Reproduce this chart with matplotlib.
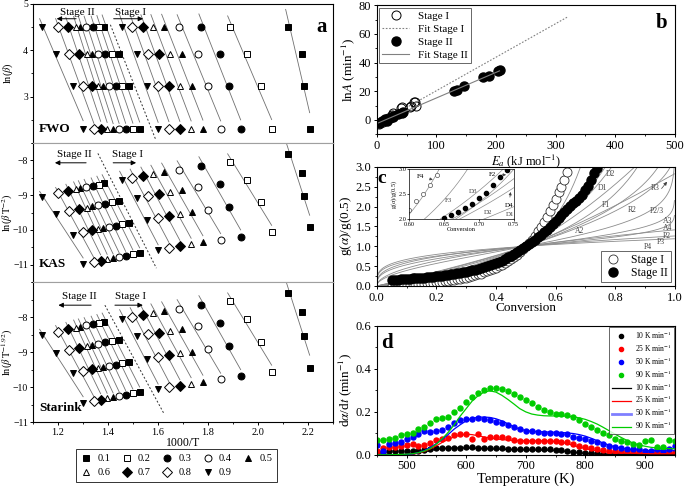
import numpy as np
import matplotlib.pyplot as plt
from matplotlib.lines import Line2D
from matplotlib.ticker import MultipleLocator

plt.rcParams['font.family'] = ['Liberation Serif', 'DejaVu Serif']
plt.rcParams['mathtext.fontset'] = 'stix'
plt.rcParams['axes.linewidth'] = 0.8
plt.rcParams['xtick.direction'] = 'out'
plt.rcParams['ytick.direction'] = 'out'

# ---------- (a) isoconversional plots ----------
conversions = ['0.1', '0.2', '0.3', '0.4', '0.5', '0.6', '0.7', '0.8', '0.9']
conv_markers = ['s', 's', 'o', 'o', '^', '^', 'D', 'D', 'v']
conv_filled = [True, False, True, False, True, False, True, False, True]
heating_rates = [90, 50, 25, 10]  # K/min, one row of points each

# 1000/T; rows = heating rates, columns = conversions 0.1..0.9
stage1_invT = [
    [2.119, 1.887, 1.772, 1.685, 1.623, 1.580, 1.540, 1.497, 1.455],
    [2.175, 1.957, 1.849, 1.761, 1.696, 1.648, 1.604, 1.560, 1.517],
    [2.184, 2.013, 1.884, 1.801, 1.735, 1.688, 1.644, 1.600, 1.555],
    [2.207, 2.055, 1.931, 1.851, 1.780, 1.733, 1.688, 1.644, 1.601],
]
stage2_invT = [
    [1.385, 1.364, 1.341, 1.313, 1.290, 1.271, 1.240, 1.199, 1.135],
    [1.444, 1.417, 1.388, 1.361, 1.337, 1.315, 1.284, 1.245, 1.191],
    [1.484, 1.457, 1.431, 1.404, 1.380, 1.361, 1.337, 1.301, 1.260],
    [1.527, 1.500, 1.471, 1.445, 1.421, 1.397, 1.371, 1.344, 1.301],
]
methods = ['FWO', 'KAS', 'Starink']
method_T_exponent = [0.0, 2.0, 1.92]
method_ylabels = [r'ln($\beta$)', r'ln($\beta\,\mathrm{T}^{-2}$)', r'ln($\beta\,\mathrm{T}^{-1.92}$)']
method_ylims = [(2, 5), (-11.5, -7.5), (-11, -7)]
method_yticks = [[3, 4, 5], [-11, -10, -9, -8], [-11, -10, -9, -8]]

# ---------- (b) compensation effect ----------
b_stage1_E = [3, 6, 10, 15, 19, 25, 28, 40, 43, 55, 58, 62, 64, 66]
b_stage1_lnA = [-3, -2, -1.5, 0, 1, 3.5, 4.5, 8, 9, 9, 9.5, 12.5, 12.8, 9.5]
b_stage2_E = [3, 8, 14, 17, 22, 27, 28, 36, 42, 44, 130, 135, 147, 178, 188, 203, 206]
b_stage2_lnA = [-2.3, -0.5, 0.7, -0.9, 1.4, 3.0, 1.9, 4.2, 4.7, 5.3, 20.5, 21, 23.5, 29.8, 30.5, 34, 34.5]

# ---------- (c) master plots ----------
c_alpha1 = [0.05, 0.06, 0.07, 0.08, 0.09, 0.10, 0.11, 0.12, 0.13, 0.14, 0.15, 0.16, 0.17, 0.18, 0.19,
            0.20, 0.21, 0.22, 0.23, 0.24, 0.25, 0.26, 0.27, 0.28, 0.29, 0.30, 0.31, 0.32, 0.33, 0.34,
            0.35, 0.36, 0.37, 0.38, 0.39, 0.40, 0.41, 0.42, 0.43, 0.44, 0.45, 0.46, 0.47, 0.48, 0.49,
            0.50, 0.51, 0.52, 0.53, 0.54, 0.55, 0.56, 0.57, 0.58, 0.59, 0.60, 0.61, 0.62, 0.63, 0.64]
c_g1 = [0.01, 0.01, 0.02, 0.02, 0.02, 0.03, 0.03, 0.04, 0.04, 0.05, 0.05, 0.06, 0.07, 0.07, 0.08,
        0.09, 0.10, 0.11, 0.12, 0.13, 0.14, 0.15, 0.17, 0.18, 0.20, 0.21, 0.23, 0.25, 0.27, 0.29,
        0.31, 0.34, 0.37, 0.40, 0.43, 0.46, 0.50, 0.54, 0.58, 0.63, 0.68, 0.73, 0.79, 0.85, 0.92,
        1.00, 1.08, 1.17, 1.27, 1.38, 1.49, 1.61, 1.74, 1.88, 2.03, 2.19, 2.36, 2.50, 2.68, 2.88]
c_alpha2 = [0.05, 0.06, 0.07, 0.08, 0.09, 0.10, 0.11, 0.12, 0.13, 0.14, 0.15, 0.16, 0.17, 0.18, 0.19,
            0.20, 0.21, 0.22, 0.23, 0.24, 0.25, 0.26, 0.27, 0.28, 0.29, 0.30, 0.31, 0.32, 0.33, 0.34,
            0.35, 0.36, 0.37, 0.38, 0.39, 0.40, 0.41, 0.42, 0.43, 0.44, 0.45, 0.46, 0.47, 0.48, 0.49,
            0.50, 0.51, 0.52, 0.53, 0.54, 0.55, 0.56, 0.57, 0.58, 0.59, 0.60, 0.61, 0.62, 0.63, 0.64,
            0.65, 0.66, 0.67, 0.68, 0.69, 0.70, 0.71, 0.72, 0.73, 0.74]
c_g2 = [0.15, 0.16, 0.16, 0.17, 0.17, 0.18, 0.18, 0.19, 0.19, 0.20, 0.20, 0.21, 0.22, 0.23, 0.23,
        0.24, 0.25, 0.26, 0.27, 0.28, 0.29, 0.30, 0.32, 0.33, 0.34, 0.36, 0.38, 0.39, 0.41, 0.43,
        0.45, 0.47, 0.50, 0.52, 0.55, 0.58, 0.61, 0.64, 0.68, 0.72, 0.76, 0.80, 0.85, 0.90, 0.95,
        1.00, 1.05, 1.11, 1.17, 1.23, 1.29, 1.35, 1.42, 1.49, 1.56, 1.63, 1.70, 1.78, 1.86, 1.94,
        2.02, 2.08, 2.14, 2.22, 2.30, 2.42, 2.52, 2.68, 2.84, 2.98]

# theoretical kinetic models g(alpha), drawn normalised by g(0.5)
models = {
    'A2': lambda a: (-np.log(1 - a)) ** (1 / 2),
    'A3': lambda a: (-np.log(1 - a)) ** (1 / 3),
    'A4': lambda a: (-np.log(1 - a)) ** (1 / 4),
    'P2': lambda a: a ** (1 / 2),
    'P3': lambda a: a ** (1 / 3),
    'P4': lambda a: a ** (1 / 4),
    'P2/3': lambda a: a ** (3 / 2),
    'R2': lambda a: 1 - (1 - a) ** (1 / 2),
    'R3': lambda a: 1 - (1 - a) ** (1 / 3),
    'D1': lambda a: a ** 2,
    'D2': lambda a: (1 - a) * np.log(1 - a) + a,
    'D3': lambda a: (1 - (1 - a) ** (1 / 3)) ** 2,
    'D4': lambda a: 1 - 2 * a / 3 - (1 - a) ** (2 / 3),
    'F1': lambda a: -np.log(1 - a),
    'F2': lambda a: 1 / (1 - a) - 1,
    'F3': lambda a: ((1 - a) ** -2 - 1) / 2,
    'F4': lambda a: ((1 - a) ** -3 - 1) / 3,
}
c_labels = {'D2': (0.785, 2.83), 'D1': (0.758, 2.46), 'F1': (0.77, 2.04), 'R2': (0.858, 1.92),
            'R3': (0.936, 2.46), 'P2/3': (0.94, 1.88), 'A2': (0.68, 1.38), 'A3': (0.975, 1.64),
            'A4': (0.975, 1.45), 'P2': (0.975, 1.27), 'P3': (0.955, 1.10), 'P4': (0.91, 0.98)}
inset_labels = {'F3': (0.657, 2.38), 'D3': (0.692, 2.55), 'D2': (0.713, 2.13), 'D1': (0.745, 2.09)}

# ---------- (d) reaction rate ----------
d_temp = [450, 460, 470, 480, 490, 500, 510, 520, 530, 540, 550, 560, 570, 580, 590, 600, 610, 620,
          630, 640, 650, 660, 670, 680, 690, 700, 710, 720, 730, 740, 750, 760, 770, 780, 790, 800,
          810, 820, 830, 840, 850, 860, 870, 880, 890, 900, 910, 920, 930, 940, 950]
d_rates = ['10 K min$^{-1}$', '25 K min$^{-1}$', '50 K min$^{-1}$', '90 K min$^{-1}$']
d_colors = ['#000000', '#ff0000', '#0000ff', '#00cc00']
d_exp_10 = [0.015, 0.015, 0.016, 0.017, 0.018, 0.018, 0.018, 0.020, 0.022, 0.025, 0.030, 0.032, 0.032,
            0.033, 0.034, 0.035, 0.035, 0.034, 0.033, 0.032, 0.031, 0.030, 0.029, 0.028, 0.028, 0.027,
            0.027, 0.026, 0.026, 0.025, 0.024, 0.022, 0.018, 0.015, 0.012, 0.010, 0.008, 0.007, 0.006,
            0.005, 0.005, 0.005, 0.005, 0.004, 0.004, 0.004, 0.004, 0.004, 0.004, 0.004, 0.004]
d_exp_25 = [0.020, 0.030, 0.035, 0.035, 0.040, 0.045, 0.050, 0.040, 0.045, 0.055, 0.070, 0.075, 0.080,
            0.090, 0.095, 0.095, 0.075, 0.098, 0.075, 0.085, 0.082, 0.085, 0.080, 0.070, 0.065, 0.065,
            0.065, 0.065, 0.065, 0.065, 0.065, 0.062, 0.060, 0.050, 0.040, 0.035, 0.030, 0.025, 0.022,
            0.020, 0.020, 0.018, 0.018, 0.016, 0.015, 0.015, 0.015, 0.015, 0.014, 0.014, 0.015]
d_exp_50 = [0.045, 0.020, 0.050, 0.055, 0.060, 0.075, 0.085, 0.095, 0.110, 0.105, 0.110, 0.115, 0.130,
            0.150, 0.160, 0.165, 0.165, 0.170, 0.168, 0.160, 0.155, 0.150, 0.140, 0.130, 0.120, 0.110,
            0.110, 0.105, 0.103, 0.103, 0.100, 0.097, 0.095, 0.085, 0.080, 0.072, 0.065, 0.060, 0.050,
            0.040, 0.035, 0.030, 0.028, 0.025, 0.025, 0.020, 0.020, 0.025, 0.020, 0.025, 0.040]
d_exp_90 = [0.070, 0.070, 0.075, 0.080, 0.090, 0.095, 0.100, 0.120, 0.130, 0.150, 0.165, 0.170, 0.175,
            0.200, 0.220, 0.245, 0.270, 0.290, 0.300, 0.310, 0.312, 0.305, 0.295, 0.285, 0.270, 0.255,
            0.240, 0.225, 0.210, 0.200, 0.190, 0.190, 0.185, 0.175, 0.160, 0.145, 0.130, 0.115, 0.100,
            0.090, 0.075, 0.065, 0.060, 0.050, 0.045, 0.065, 0.070, 0.035, 0.035, 0.070, 0.065]
d_sim_10 = [0.000, 0.000, 0.000, 0.000, 0.001, 0.002, 0.004, 0.008, 0.014, 0.020, 0.026, 0.029, 0.031,
            0.032, 0.032, 0.032, 0.031, 0.030, 0.029, 0.028, 0.027, 0.026, 0.025, 0.024, 0.023, 0.023,
            0.022, 0.022, 0.022, 0.021, 0.020, 0.018, 0.015, 0.012, 0.009, 0.006, 0.004, 0.003, 0.002,
            0.001, 0.001, 0.001, 0.001, 0.001, 0.001, 0.001, 0.001, 0.001, 0.001, 0.001, 0.001]
d_sim_25 = [0.000, 0.000, 0.000, 0.000, 0.001, 0.002, 0.003, 0.008, 0.016, 0.028, 0.042, 0.058, 0.072,
            0.084, 0.092, 0.096, 0.094, 0.089, 0.083, 0.078, 0.074, 0.071, 0.069, 0.067, 0.066, 0.065,
            0.065, 0.065, 0.065, 0.064, 0.062, 0.058, 0.052, 0.044, 0.036, 0.029, 0.023, 0.018, 0.015,
            0.012, 0.010, 0.009, 0.008, 0.007, 0.006, 0.006, 0.005, 0.005, 0.005, 0.005, 0.005]
d_sim_50 = [0.000, 0.000, 0.000, 0.000, 0.001, 0.002, 0.004, 0.010, 0.020, 0.035, 0.052, 0.072, 0.095,
            0.120, 0.140, 0.158, 0.170, 0.175, 0.176, 0.174, 0.168, 0.158, 0.145, 0.130, 0.120, 0.113,
            0.110, 0.108, 0.107, 0.106, 0.105, 0.104, 0.102, 0.099, 0.094, 0.087, 0.077, 0.066, 0.055,
            0.045, 0.037, 0.031, 0.027, 0.024, 0.022, 0.021, 0.020, 0.020, 0.019, 0.019, 0.019]
d_sim_90 = [0.000, 0.000, 0.000, 0.001, 0.002, 0.003, 0.005, 0.010, 0.018, 0.030, 0.050, 0.075, 0.105,
            0.140, 0.180, 0.215, 0.250, 0.275, 0.292, 0.298, 0.292, 0.277, 0.258, 0.237, 0.215, 0.200,
            0.190, 0.185, 0.182, 0.181, 0.181, 0.181, 0.180, 0.177, 0.172, 0.165, 0.155, 0.143, 0.128,
            0.112, 0.096, 0.081, 0.067, 0.055, 0.046, 0.040, 0.035, 0.032, 0.030, 0.029, 0.028]
d_exp = [d_exp_10, d_exp_25, d_exp_50, d_exp_90]
d_sim = [d_sim_10, d_sim_25, d_sim_50, d_sim_90]


def style_ticks(ax, size):
    ax.tick_params(which='major', length=2.5, width=0.7, labelsize=size, pad=1.5)
    ax.tick_params(which='minor', length=1.5, width=0.6)


fig = plt.figure(figsize=(6.85, 4.88), dpi=100)

# ----- panel a -----
a_pos = [[0.048, 0.707, 0.438, 0.285], [0.048, 0.422, 0.438, 0.285], [0.048, 0.135, 0.438, 0.287]]
inv1 = np.array(stage1_invT)
inv2 = np.array(stage2_invT)
lnb = np.log(np.array(heating_rates, dtype=float))[:, None]
stage_text = [((1.276, 4.81), (1.284, 1.184, 4.68), (1.492, 4.81), (1.412, 1.552, 4.68)),
              ((1.264, -7.84), (1.324, 1.177, -8.07), (1.477, -7.84), (1.41, 1.524, -8.07)),
              ((1.284, -7.40), (1.344, 1.191, -7.66), (1.491, -7.40), (1.417, 1.551, -7.66))]
divider = [((1.41, 4.55), (1.59, 2.09)), ((1.36, -7.8), (1.594, -11.1)), ((1.388, -7.66), (1.626, -10.78))]
axes_a = []
for k, name in enumerate(methods):
    ax = fig.add_axes(a_pos[k])
    axes_a.append(ax)
    n = method_T_exponent[k]
    for inv in (inv1, inv2):
        yv = lnb - n * np.log(1000.0 / inv)
        for j in range(len(conversions)):
            coef = np.polyfit(inv[:, j], yv[:, j], 1)
            xx = np.array([inv[:, j].min() - 0.008, inv[:, j].max()])
            ax.plot(xx, np.polyval(coef, xx), color='#707070', lw=0.6, zorder=1)
            ax.plot(inv[:, j], yv[:, j], ls='none', marker=conv_markers[j], ms=5,
                    mfc='k' if conv_filled[j] else 'white', mec='k', mew=0.7, zorder=3)
    (p0, p1) = divider[k]
    ax.plot([p0[0], p1[0]], [p0[1], p1[1]], ls=(0, (2, 2)), color='#303030', lw=0.7)
    st = stage_text[k]
    ax.text(st[0][0], st[0][1], 'Stage II', ha='center', va='center', fontsize=8)
    ax.annotate('', xy=(st[1][1], st[1][2]), xytext=(st[1][0], st[1][2]),
                arrowprops=dict(arrowstyle='-|>', lw=0.7, color='k', mutation_scale=7))
    ax.text(st[2][0], st[2][1], 'Stage I', ha='center', va='center', fontsize=8)
    ax.annotate('', xy=(st[3][1], st[3][2]), xytext=(st[3][0], st[3][2]),
                arrowprops=dict(arrowstyle='-|>', lw=0.7, color='k', mutation_scale=7))
    ax.text(0.02, 0.06 if k != 1 else 0.09, name, transform=ax.transAxes, fontsize=9.5,
            fontweight='bold', ha='left', va='bottom')
    ax.set_xlim(1.1, 2.3)
    ax.set_ylim(*method_ylims[k])
    ax.set_yticks(method_yticks[k])
    ax.yaxis.set_minor_locator(MultipleLocator(0.5))
    ax.xaxis.set_major_locator(MultipleLocator(0.2))
    ax.xaxis.set_minor_locator(MultipleLocator(0.1))
    ax.set_ylabel(method_ylabels[k], fontsize=7.5)
    ax.yaxis.set_label_coords(-0.06, 0.5)
    style_ticks(ax, 7)
    ax.tick_params(axis='y', pad=1)
    if k < 2:
        ax.tick_params(axis='x', which='both', bottom=False, labelbottom=False)
        ax.spines['bottom'].set_color('#a0a0a0')
    if k > 0:
        ax.spines['top'].set_color('#a0a0a0')
axes_a[0].text(0.963, 0.835, 'a', transform=axes_a[0].transAxes, fontsize=15, fontweight='bold',
               ha='center', va='center')
axes_a[2].set_xlabel('1000/T', fontsize=8.5, labelpad=0)
axes_a[2].tick_params(axis='x', labelsize=7.5)

handles = [Line2D([], [], ls='none', marker=conv_markers[j], ms=5, mec='k', mew=0.7,
                  mfc='k' if conv_filled[j] else 'white') for j in range(len(conversions))]
order = [0, 5, 1, 6, 2, 7, 3, 8, 4]
fig.legend([handles[i] for i in order], [conversions[i] for i in order], ncol=5,
           loc='center', bbox_to_anchor=(0.258, 0.046), fontsize=7.5, frameon=True, fancybox=False,
           edgecolor='k', handlelength=1.0, handletextpad=0.6, columnspacing=1.05,
           labelspacing=0.45, borderpad=0.45).get_frame().set_linewidth(0.7)

# ----- panel b -----
axb = fig.add_axes([0.550, 0.725, 0.435, 0.264])
e1 = np.array(b_stage1_E)
e2 = np.array(b_stage2_E)
f1 = np.polyfit(e1, np.array(b_stage1_lnA), 1)
f2 = np.polyfit(e2, np.array(b_stage2_lnA), 1)
axb.plot(e1, b_stage1_lnA, ls='none', marker='o', ms=6.5, mfc='none', mec='k', mew=0.7, label='Stage I')
xx1 = np.array([0, 320])
axb.plot(xx1, np.polyval(f1, xx1), ls=(0, (1.5, 1.5)), color='#808080', lw=0.8, label='Fit Stage I')
axb.plot(e2, b_stage2_lnA, ls='none', marker='o', ms=6.5, mfc='k', mec='k', label='Stage II')
xx2 = np.array([0, e2.max()])
axb.plot(xx2, np.polyval(f2, xx2), color='#808080', lw=0.8, label='Fit Stage II')
axb.set_xlim(0, 500)
axb.set_ylim(-10, 80)
axb.xaxis.set_major_locator(MultipleLocator(100))
axb.xaxis.set_minor_locator(MultipleLocator(50))
axb.yaxis.set_major_locator(MultipleLocator(20))
axb.yaxis.set_minor_locator(MultipleLocator(10))
style_ticks(axb, 9)
axb.set_xlabel(r'$E_a$ (kJ mol$^{-1}$)', fontsize=9, labelpad=0.5)
axb.set_ylabel(r'ln$A$ (min$^{-1}$)', fontsize=9.5, labelpad=1)
lb = axb.legend(loc='upper left', fontsize=8, frameon=True, fancybox=False, edgecolor='#404040',
                handlelength=2.4, borderpad=0.3, labelspacing=0.3, borderaxespad=0.2)
lb.get_frame().set_linewidth(0.7)
axb.text(0.956, 0.86, 'b', transform=axb.transAxes, fontsize=15, fontweight='bold', ha='center', va='center')

# ----- panel c -----
axc = fig.add_axes([0.550, 0.414, 0.435, 0.244])
alpha = np.linspace(0.001, 0.999, 600)
for name, g in models.items():
    axc.plot(alpha, g(alpha) / g(0.5), color='#8c8c8c', lw=0.6, zorder=1)
axc.plot(c_alpha1, c_g1, ls='none', marker='o', ms=6.5, mfc='white', mec='#303030', mew=0.6,
         label='Stage I', zorder=2)
axc.plot(c_alpha2, c_g2, ls='none', marker='o', ms=6.5, mfc='k', mec='k', label='Stage II', zorder=3)
for name, (x, y) in c_labels.items():
    axc.text(x, y, name, fontsize=5.5, color='#404040', ha='center', va='center')
axc.annotate('', xy=(0.98, 2.68), xytext=(0.95, 2.4),
             arrowprops=dict(arrowstyle='-|>', lw=0.5, color='#404040', mutation_scale=5))
axc.set_xlim(0, 1)
axc.set_ylim(0, 3)
axc.xaxis.set_major_locator(MultipleLocator(0.2))
axc.xaxis.set_minor_locator(MultipleLocator(0.1))
axc.yaxis.set_major_locator(MultipleLocator(0.5))
axc.yaxis.set_minor_locator(MultipleLocator(0.25))
style_ticks(axc, 9)
axc.set_xlabel('Conversion', fontsize=9.5, labelpad=-1)
axc.set_ylabel(r'g($\alpha$)/g(0.5)', fontsize=9.5, labelpad=1)
lc = axc.legend(loc='lower right', fontsize=8.5, frameon=True, fancybox=False, edgecolor='#404040',
                handlelength=1.5, borderpad=0.25, labelspacing=0.1, borderaxespad=0.3)
lc.get_frame().set_linewidth(0.7)
axc.text(0.016, 0.9, 'c', transform=axc.transAxes, fontsize=14, fontweight='bold', ha='center', va='center')

axi = fig.add_axes([0.597, 0.551, 0.153, 0.102])
alpha_i = np.linspace(0.55, 0.8, 300)
for name, g in models.items():
    axi.plot(alpha_i, g(alpha_i) / g(0.5), color='#8c8c8c', lw=0.5)
axi.plot(c_alpha1, c_g1, ls='none', marker='o', ms=3, mfc='white', mec='#505050', mew=0.5)
axi.plot(c_alpha2, c_g2, ls='none', marker='o', ms=3, mfc='k', mec='k')
for name, (x, y) in inset_labels.items():
    axi.text(x, y, name, fontsize=5, color='#404040', ha='center', va='center')
arr = dict(arrowstyle='-|>', lw=0.5, color='#404040', mutation_scale=4)
axi.annotate('F4', xy=(0.638, 2.78), xytext=(0.617, 2.85), fontsize=5, ha='center', va='center', arrowprops=arr)
axi.annotate('F2', xy=(0.743, 2.89), xytext=(0.72, 2.89), fontsize=5, ha='center', va='center', arrowprops=arr)
axi.annotate('D4', xy=(0.746, 2.6), xytext=(0.743, 2.28), fontsize=5, ha='center', va='center', arrowprops=arr)
axi.set_xlim(0.60, 0.75)
axi.set_ylim(2.0, 3.0)
axi.set_xticks([0.60, 0.65, 0.70, 0.75])
axi.set_yticks([2.0, 2.5, 3.0])
axi.tick_params(labelsize=4.5, length=1.2, width=0.5, pad=0.6)
axi.set_xlabel('Conversion', fontsize=4.5, labelpad=0)
axi.set_ylabel(r'g($\alpha$)/g(0.5)', fontsize=4.5, labelpad=-0.5)
for s in axi.spines.values():
    s.set_linewidth(0.5)

# ----- panel d -----
axd = fig.add_axes([0.550, 0.068, 0.435, 0.264])
for i in range(4):
    axd.plot(d_temp, d_exp[i], ls='none', marker='o', ms=3.6, color=d_colors[i])
for i in range(4):
    axd.plot(d_temp, d_sim[i], color=d_colors[i], lw=0.9)
d_handles = [Line2D([], [], ls='none', marker='o', ms=3, color=c) for c in d_colors]
d_handles += [Line2D([], [], color=c, lw=2.0 if c == '#0000ff' else 0.9,
                     alpha=0.5 if c == '#0000ff' else 1.0) for c in d_colors]
ld = axd.legend(d_handles, d_rates + d_rates, loc='upper right', fontsize=5.5, frameon=True,
                fancybox=False, edgecolor='#404040', handlelength=2.5, handletextpad=0.5,
                borderpad=0.35, labelspacing=0.2, borderaxespad=0.1)
ld.get_frame().set_linewidth(0.7)
axd.set_xlim(450, 950)
axd.set_ylim(0, 0.6)
axd.xaxis.set_major_locator(MultipleLocator(100))
axd.xaxis.set_minor_locator(MultipleLocator(50))
axd.yaxis.set_major_locator(MultipleLocator(0.2))
axd.yaxis.set_minor_locator(MultipleLocator(0.1))
style_ticks(axd, 9)
axd.set_xlabel('Temperature (K)', fontsize=10.5, labelpad=0)
axd.set_ylabel(r'd$\alpha$/d$t$ (min$^{-1}$)', fontsize=9.5, labelpad=1)
axd.text(0.035, 0.87, 'd', transform=axd.transAxes, fontsize=15, fontweight='bold', ha='center', va='center')

fig.savefig('out.png', dpi=100)
